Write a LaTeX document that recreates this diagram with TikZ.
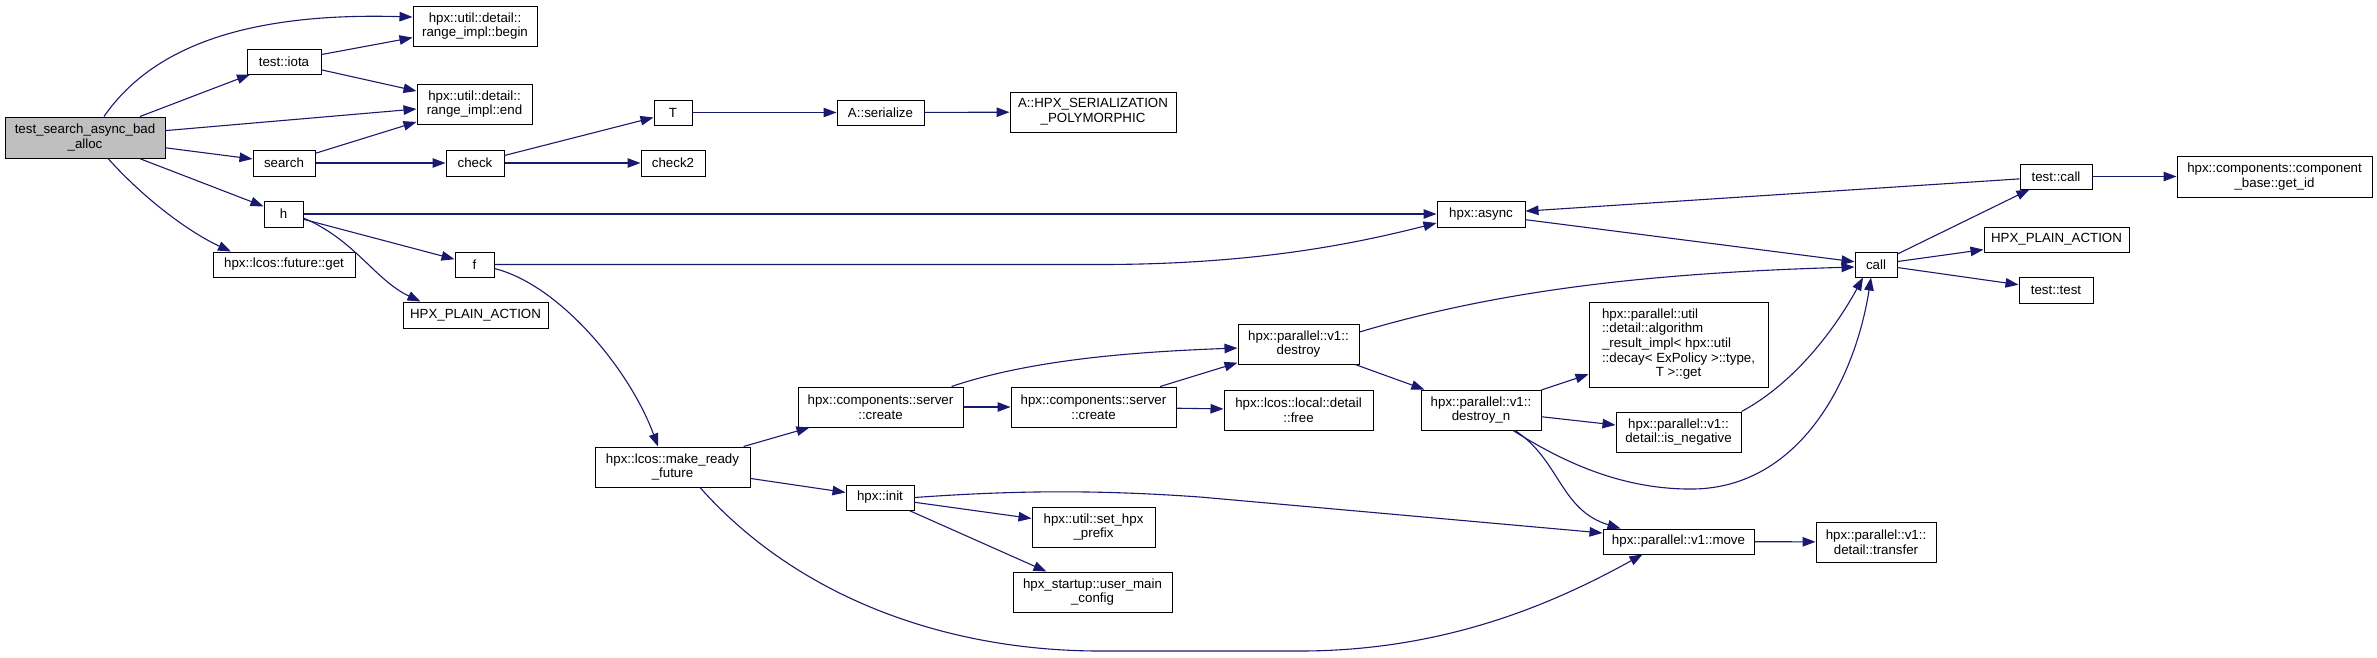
\documentclass[tikz,border=0pt]{standalone}
\usepackage{fontspec}
\setmainfont{Liberation Sans}
\usetikzlibrary{arrows.meta}
\definecolor{edgeblue}{HTML}{191970}
\definecolor{maingray}{HTML}{BFBFBF}
\begin{document}
\begin{tikzpicture}[x=1pt,y=-1pt,
  box/.style={draw=black, line width=1pt, inner sep=0pt, align=center, fill=white, font=\fontsize{13.3}{14.7}\selectfont},
  edge/.style={draw=edgeblue, line width=1.1pt, -{Triangle[length=13pt,width=9.5pt]}}]
\useasboundingbox[fill=white] (0,0) rectangle (2377,657);
% nodes
\node[box,fill=maingray,minimum width=160pt,minimum height=41pt] (main) at (85,137.5) {test\_search\_async\_bad\\\_alloc};
\node[box,minimum width=124pt,minimum height=40pt] (begin) at (475,26) {hpx::util::detail::\\range\_impl::begin};
\node[box,minimum width=74pt,minimum height=25pt] (iota) at (284,61.5) {test::iota};
\node[box,minimum width=115pt,minimum height=40pt] (end) at (474.5,104) {hpx::util::detail::\\range\_impl::end};
\node[box,minimum width=62pt,minimum height=26pt] (search) at (284,163) {search};
\node[box,minimum width=58pt,minimum height=26pt] (check) at (475,163) {check};
\node[box,minimum width=39pt,minimum height=26pt] (h) at (283.5,214) {h};
\node[box,minimum width=142pt,minimum height=25pt] (fget) at (284,264.5) {hpx::lcos::future::get};
\node[box,minimum width=39pt,minimum height=25pt] (f) at (474.5,264.5) {f};
\node[box,minimum width=145pt,minimum height=26pt] (hpa1) at (475.5,315) {HPX\_PLAIN\_ACTION};
\node[box,minimum width=38pt,minimum height=25pt] (T) at (673,112.5) {T};
\node[box,minimum width=87pt,minimum height=25pt] (ser) at (880.5,112.5) {A::serialize};
\node[box,minimum width=166pt,minimum height=40pt] (hps) at (1093,112) {A::HPX\_SERIALIZATION\\\_POLYMORPHIC};
\node[box,minimum width=64pt,minimum height=26pt] (check2) at (673,163) {check2};
\node[box,minimum width=155pt,minimum height=40pt] (mrf) at (672.5,467) {hpx::lcos::make\_ready\\\_future};
\node[box,minimum width=88pt,minimum height=26pt] (async) at (1481,214) {hpx::async};
\node[box,minimum width=121pt,minimum height=40pt] (destroy) at (1298.5,344) {hpx::parallel::v1::\\destroy};
\node[box,minimum width=165pt,minimum height=40pt] (create1) at (880.5,407) {hpx::components::server\\::create};
\node[box,minimum width=165pt,minimum height=40pt] (create2) at (1093.5,407) {hpx::components::server\\::create};
\node[box,minimum width=149pt,minimum height=40pt] (free) at (1298.5,410) {hpx::lcos::local::detail\\::free};
\node[box,minimum width=68pt,minimum height=25pt] (init) at (880,497.5) {hpx::init};
\node[box,minimum width=123pt,minimum height=40pt] (prefix) at (1093.5,527) {hpx::util::set\_hpx\\\_prefix};
\node[box,minimum width=159pt,minimum height=40pt] (umc) at (1092.5,592) {hpx\_startup::user\_main\\\_config};
\node[box,minimum width=42pt,minimum height=25pt] (call) at (1876,264.5) {call};
\node[box,minimum width=72pt,minimum height=25pt] (tcall) at (2056,176.5) {test::call};
\node[box,minimum width=195pt,minimum height=41pt] (getid) at (2274.5,176.5) {hpx::components::component\\\_base::get\_id};
\node[box,minimum width=145pt,minimum height=25pt] (hpa2) at (2056.5,239.5) {HPX\_PLAIN\_ACTION};
\node[box,minimum width=74pt,minimum height=26pt] (ttest) at (2056,290) {test::test};
\node[box,minimum width=179pt,minimum height=85pt] (algo) at (1678.5,344.5) {\begin{tabular}{@{}l@{}}hpx::parallel::util\\::detail::algorithm\\\_result\_impl< hpx::util\\::decay< ExPolicy >::type,\\\multicolumn{1}{@{}c@{}}{T >::get}\end{tabular}};
\node[box,minimum width=120pt,minimum height=40pt] (destroyn) at (1481,410) {hpx::parallel::v1::\\destroy\_n};
\node[box,minimum width=125pt,minimum height=40pt] (isneg) at (1678.5,432) {hpx::parallel::v1::\\detail::is\_negative};
\node[box,minimum width=151pt,minimum height=25pt] (move) at (1678.5,541.5) {hpx::parallel::v1::move};
\node[box,minimum width=120pt,minimum height=40pt] (transfer) at (1876,542) {hpx::parallel::v1::\\detail::transfer};
% straight edges
\draw[edge] (main) -- (iota);
\draw[edge] (main) -- (end);
\draw[edge] (main) -- (search);
\draw[edge] (main) -- (h);
\draw[edge] (iota) -- (begin);
\draw[edge] (iota) -- (end);
\draw[edge] (search) -- (end);
\draw[edge] (search) -- (check);
\draw[edge] (check) -- (T);
\draw[edge] (check) -- (check2);
\draw[edge] (T) -- (ser);
\draw[edge] (ser) -- (hps);
\draw[edge] (h) -- (async);
\draw[edge] (h) -- (f);
\draw[edge] (mrf) -- (create1);
\draw[edge] (mrf) -- (init);
\draw[edge] (create1) -- (create2);
\draw[edge] (create2) -- (destroy);
\draw[edge] (create2) -- (free);
\draw[edge] (destroy) -- (destroyn);
\draw[edge] (destroyn) -- (algo);
\draw[edge] (destroyn) -- (isneg);
\draw[edge] (init) -- (prefix);
\draw[edge] (init) -- (umc);
\draw[edge] (move) -- (transfer);
\draw[edge] (async) -- (call);
\draw[edge] (call) -- (tcall);
\draw[edge] (call) -- (hpa2);
\draw[edge] (call) -- (ttest);
\draw[edge] (tcall) -- (async);
\draw[edge] (tcall) -- (getid);
% curved edges
\draw[edge] ([xshift=19pt]main.north) .. controls (150,50) and (240,12) .. ([yshift=9pt]begin.west);
\draw[edge] ([xshift=23pt]main.south) .. controls (150,205) and (195,235) .. ([xshift=-53pt]fget.north);
\draw[edge] ([yshift=-4pt]h.east) .. controls (355,240) and (375,280) .. ([xshift=-55pt]hpa1.north);
\draw[edge] (f.east) -- (1100,264.5) .. controls (1250,264.5) and (1350,245) .. ([yshift=-9pt]async.west);
\draw[edge] ([yshift=-4pt]f.east) .. controls (560,285) and (630,370) .. ([xshift=-14.5pt]mrf.north);
\draw[edge] ([xshift=27.5pt]mrf.south) .. controls (800,600) and (950,651) .. (1100,651) -- (1300,651) .. controls (1450,651) and (1560,600) .. ([xshift=-36pt]move.south);
\draw[edge] ([xshift=71pt]create1.north) .. controls (1030,360) and (1130,352) .. ([yshift=-4pt]destroy.west);
\draw[edge] ([yshift=12pt]destroy.east) .. controls (1500,290) and (1650,273) .. ([yshift=-2.5pt]call.west);
\draw[edge] ([xshift=32pt]destroyn.south) .. controls (1560,460) and (1620,490) .. (1694,489) .. controls (1800,487) and (1855,380) .. ([xshift=-5pt]call.south);
\draw[edge] ([xshift=34pt]destroyn.south) .. controls (1560,460) and (1560,510) .. ([xshift=-58pt]move.north);
\draw[edge] (isneg.north east) .. controls (1800,380) and (1840,320) .. ([xshift=-13pt]call.south);
\draw[edge] (init.east) .. controls (1020,490) and (1100,490) .. (1200,497) -- ([yshift=8.5pt]move.west);
\end{tikzpicture}
\end{document}
